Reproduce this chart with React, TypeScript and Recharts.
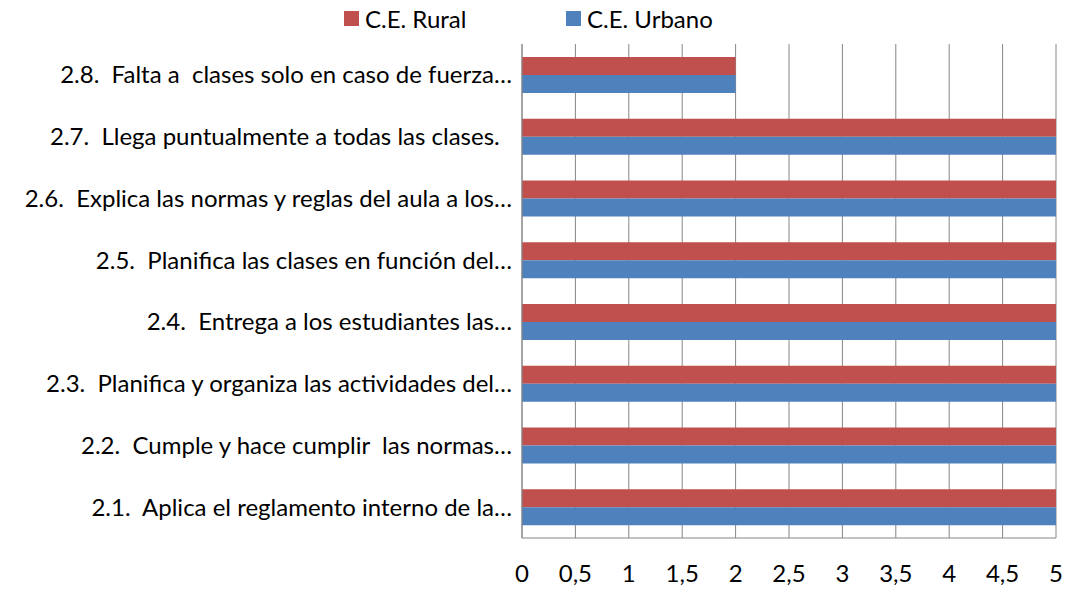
import { Bar, BarChart, CartesianGrid, XAxis, YAxis } from "recharts";

const categories = [
  "2.8.  Falta a  clases solo en caso de fuerza…",
  "2.7.  Llega puntualmente a todas las clases.  ",
  "2.6.  Explica las normas y reglas del aula a los…",
  "2.5.  Planifica las clases en función del…",
  "2.4.  Entrega a los estudiantes las…",
  "2.3.  Planifica y organiza las actividades del…",
  "2.2.  Cumple y hace cumplir  las normas…",
  "2.1.  Aplica el reglamento interno de la…",
];
const rural = [2, 5, 5, 5, 5, 5, 5, 5];
const urbano = [2, 5, 5, 5, 5, 5, 5, 5];
const xTicks = [0, 0.5, 1, 1.5, 2, 2.5, 3, 3.5, 4, 4.5, 5];

const RED = "#C0504D";
const BLUE = "#4F81BD";
const FONT = "Lato, 'Open Sans', sans-serif";
const FS = 24;

const rows = categories.map((name, i) => ({
  name,
  rural: rural[i],
  urbano: urbano[i],
}));

function CategoryTick(props: any) {
  const { x, y, payload } = props;
  return (
    <text
      x={x}
      y={y}
      dy="0.35em"
      textAnchor="end"
      fill="#000"
      fontSize={FS}
      fontFamily={FONT}
      style={{ whiteSpace: "pre" }}
    >
      {payload.value}
    </text>
  );
}

function LegendBox() {
  const items = [
    { label: "C.E. Rural", color: RED, left: 336 },
    { label: "C.E. Urbano", color: BLUE, left: 558 },
  ];
  return (
    <div style={{ position: "absolute", top: 0, left: 0, fontFamily: FONT, fontSize: FS, color: "#000" }}>
      {items.map((it) => (
        <div
          key={it.label}
          style={{ position: "absolute", left: it.left, top: -6, display: "flex", alignItems: "center", whiteSpace: "nowrap", height: 32 }}
        >
          <span
            style={{
              display: "inline-block",
              width: 15,
              height: 15,
              background: it.color,
              marginRight: 6,
            }}
          />
          {it.label}
        </div>
      ))}
    </div>
  );
}

export default function App() {
  return (
    <div style={{ position: "relative", width: 1065, height: 583 }}>
      <LegendBox />
      <BarChart
        width={1065}
        height={583}
        data={rows}
        layout="vertical"
        margin={{ top: 36, right: 17, bottom: 23, left: 0 }}
        barCategoryGap="21%"
        barGap={0}
      >
        <CartesianGrid horizontal={false} stroke="#868686" />
        <XAxis
          type="number"
          domain={[0, 5]}
          ticks={xTicks}
          interval={0}
          tickLine={false}
          tickSize={0}
          tickMargin={27}
          axisLine={{ stroke: "#868686" }}
          tickFormatter={(v: number) => String(v).replace(".", ",")}
          tick={{ fill: "#000", fontSize: FS, fontFamily: FONT }}
          height={30}
        />
        <YAxis
          type="category"
          dataKey="name"
          width={514}
          tickLine={false}
          tickSize={0}
          tickMargin={10}
          axisLine={{ stroke: "#868686" }}
          tick={<CategoryTick />}
          interval={0}
        />
        <Bar dataKey="rural" name="C.E. Rural" fill={RED} isAnimationActive={false} />
        <Bar dataKey="urbano" name="C.E. Urbano" fill={BLUE} isAnimationActive={false} />
      </BarChart>
    </div>
  );
}
